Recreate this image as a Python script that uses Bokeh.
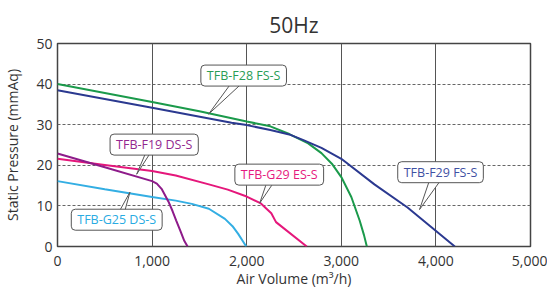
from bokeh.plotting import figure
from bokeh.models import Range1d, NumeralTickFormatter, FixedTicker, Label
from bokeh.embed import file_html
from bokeh.resources import INLINE

# ---- data (air volume m3/h, static pressure mmAq) ----
f28_x = [0, 500, 1000, 1500, 2000, 2250, 2450, 2650, 2790, 2900, 3000, 3106, 3194, 3240, 3270]
f28_y = [40.0, 37.8, 35.6, 33.3, 30.8, 29.6, 27.7, 25.4, 23.0, 20.4, 17.1, 12.2, 6.4, 2.8, 0]

f29_x = [0, 1000, 1840, 2000, 2250, 2450, 2600, 2790, 3000, 3350, 3700, 3950, 4200]
f29_y = [38.5, 34.2, 30.5, 29.9, 28.7, 27.6, 26.2, 24.3, 21.6, 15.3, 9.6, 4.8, 0]

g29_x = [0, 500, 1000, 1250, 1600, 1800, 2000, 2150, 2260, 2310, 2635]
g29_y = [21.6, 20.1, 18.6, 17.5, 15.3, 14.0, 12.3, 10.6, 8.2, 6.0, 0]

g25_x = [0, 500, 1000, 1250, 1420, 1600, 1770, 1850, 1910, 1960, 1995]
g25_y = [16.1, 14.1, 12.2, 11.3, 10.5, 9.3, 6.8, 5.0, 3.1, 1.3, 0]

f19_x = [0, 500, 1000, 1050, 1100, 1172, 1215, 1255, 1300, 1340, 1375]
f19_y = [22.9, 19.5, 16.1, 15.5, 14.2, 11.1, 8.8, 6.4, 3.8, 1.4, 0]

names = ["TFB-F28 FS-S", "TFB-F29 FS-S", "TFB-G29 ES-S", "TFB-G25 DS-S", "TFB-F19 DS-S"]
xs = [f28_x, f29_x, g29_x, g25_x, f19_x]
ys = [f28_y, f29_y, g29_y, g25_y, f19_y]

x_ticks = [0, 1000, 2000, 3000, 4000, 5000]
y_ticks = [0, 10, 20, 30, 40, 50]

title_text = "50Hz"
x_title = "Air Volume (m³/h)"
y_title = "Static Pressure (mmAq)"

# ---- styles ----
line_colors = ["#1b9a4b", "#2b3990", "#e5177b", "#33aee3", "#8e1b8a"]
text_colors = ["#2a9d55", "#3f51a3", "#e6197e", "#29abe2", "#93278f"]
# callout: label center (x, y), pointer base x pair, base y, tip (x, y)
callouts = [
    (1968, 42.1, (1860, 1987), 41.0, (1597, 32.6)),
    (4049, 18.3, (3950, 4087), 17.5, (3827, 9.1)),
    (2344, 17.7, (2227, 2315), 16.8, (2138, 10.7)),
    (626, 6.6, (626, 697), 7.5, (766, 13.4)),
    (1022, 25.1, (953, 1013), 24.2, (837, 17.8)),
]

FONT = "Open Sans"
GREY = "#333333"

p = figure(width=547, height=291, output_backend="svg", toolbar_location=None,
           x_range=Range1d(0, 5000), y_range=Range1d(0, 50),
           title=title_text,
           min_border_left=56, min_border_right=17,
           min_border_top=43, min_border_bottom=45)

p.title.align = "center"
p.title.text_font = FONT
p.title.text_font_size = "21px"
p.title.text_font_style = "normal"
p.title.text_color = GREY
p.title.standoff = 9

p.background_fill_color = "white"
p.outline_line_color = "#444444"
p.outline_line_width = 1.5

for ax in (p.xaxis, p.yaxis):
    ax.axis_line_color = None
    ax.major_tick_line_color = None
    ax.minor_tick_line_color = None
    ax.major_tick_out = 0
    ax.major_tick_in = 0
    ax.minor_tick_out = 0
    ax.minor_tick_in = 0
    ax.major_label_text_font = FONT
    ax.major_label_text_font_size = "14px"
    ax.major_label_text_color = GREY
    ax.axis_label_text_font = FONT
    ax.axis_label_text_font_size = "14px"
    ax.axis_label_text_font_style = "normal"
    ax.axis_label_text_color = GREY

p.xaxis.ticker = FixedTicker(ticks=x_ticks)
p.yaxis.ticker = FixedTicker(ticks=y_ticks)
p.xaxis.formatter = NumeralTickFormatter(format="0,0")
p.xaxis.axis_label = x_title
p.yaxis.axis_label = y_title
p.xaxis.major_label_standoff = 9
p.xaxis.axis_label_standoff = 0
p.yaxis.major_label_standoff = 5
p.yaxis.axis_label_standoff = 11

p.xgrid.grid_line_color = "#555555"
p.xgrid.grid_line_width = 1
p.ygrid.grid_line_color = "#666666"
p.ygrid.grid_line_width = 1
p.ygrid.grid_line_dash = "3 2"

for x, y, c in zip(xs, ys, line_colors):
    p.line(x, y, line_color=c, line_width=2)

for (cx, cy, (bx1, bx2), by, (tx, ty)), name, tc in zip(callouts, names, text_colors):
    p.patch([bx1, tx, bx2], [by, ty, by], fill_color="white",
            line_color="#555555", line_width=1)
    lab = Label(x=cx, y=cy, text=name, text_align="center", text_baseline="middle",
                text_font=FONT, text_font_size="12.5px", text_color=tc,
                background_fill_color="white", border_line_color="#555555",
                border_line_width=1, border_radius=4,
                padding=dict(left=6, right=6, top=2, bottom=2))
    p.add_layout(lab)

open("out.html", "w").write(file_html(p, INLINE))
